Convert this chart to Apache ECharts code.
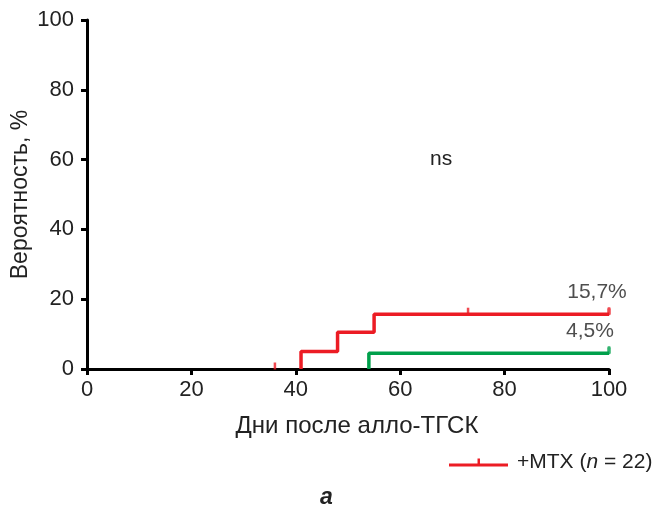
<!DOCTYPE html>
<html>
<head>
<meta charset="utf-8">
<script src="https://cdn.jsdelivr.net/npm/echarts@6/dist/echarts.min.js"></script>
<style>html,body{margin:0;padding:0;background:#fff}#c{width:657px;height:507px}</style>
</head>
<body>
<div id="c"></div>
<script>
// Data
const xTicks = [0, 20, 40, 60, 80, 100];
const yTicks = [0, 20, 40, 60, 80, 100];
const followUpEnd = 100;
// +MTX (red): event times and cumulative incidence (%) after each event
const redEventTimes = [41, 48, 55];
const redIncidence = [5.0, 10.5, 15.7];
const redCensorTimes = [36, 73];
// green group
const greenEventTimes = [54];
const greenIncidence = [4.5];
const redLabel = '15,7%';
const greenLabel = '4,5%';
const legendName = '+MTX (n = 22)';

const RED = '#ec1c24';
const GREEN = '#00a04b';
const FONT = '"Liberation Sans", Arial, sans-serif';

function stepPoints(times, vals) {
  const pts = [[times[0], 0]];
  for (let i = 0; i < times.length; i++) {
    const nextT = i + 1 < times.length ? times[i + 1] : followUpEnd;
    pts.push([nextT, vals[i]]);
  }
  return pts;
}
function valueAt(times, vals, t) {
  let v = 0;
  for (let i = 0; i < times.length; i++) if (t >= times[i]) v = vals[i];
  return v;
}
function censorPoints(times, vals, ct) {
  return ct.map(t => [t, valueAt(times, vals, t)]);
}

const chart = echarts.init(document.getElementById('c'), null, {renderer: 'canvas'});
const option = {
  animation: false,
  textStyle: {fontFamily: FONT},
  grid: {left: 87, right: 48, top: 20, bottom: 138, containLabel: false, outerBoundsMode: 'none'},
  xAxis: {
    type: 'value', min: 0, max: 100, interval: 20,
    name: 'Дни после алло-ТГСК', nameLocation: 'middle', nameGap: 45, nameMoveOverlap: false,
    nameTextStyle: {fontSize: 24, color: '#222', fontFamily: FONT, padding: [0, 0, 0, 18]},
    axisLine: {lineStyle: {color: '#000', width: 3}},
    axisTick: {show: true, length: 6, lineStyle: {color: '#000', width: 3}},
    axisLabel: {fontSize: 22, color: '#222', margin: 10, fontFamily: FONT,
      formatter: v => xTicks.includes(v) ? String(v) : ''},
    splitLine: {show: false}
  },
  yAxis: {
    type: 'value', min: 0, max: 100, interval: 20,
    name: 'Вероятность, %', nameLocation: 'middle', nameGap: 55, nameMoveOverlap: false,
    nameTextStyle: {fontSize: 23, color: '#222', fontFamily: FONT},
    axisLine: {lineStyle: {color: '#000', width: 3}},
    axisTick: {show: true, length: 6, lineStyle: {color: '#000', width: 3}},
    axisLabel: {fontSize: 22, color: '#222', margin: 13, fontFamily: FONT,
      formatter: v => yTicks.includes(v) ? String(v) : ''},
    splitLine: {show: false}
  },
  legend: {
    data: [{name: legendName, icon: 'path://M0,5 L60,5 L60,8 L0,8 Z M29,0 L31.5,0 L31.5,5 L29,5 Z'}],
    left: 444, top: 447, itemWidth: 59, itemHeight: 8, itemGap: 14,
    formatter: () => '{a|+MTX (}{i|n}{a| = 22)}',
    textStyle: {padding: [0, 0, 0, 4], rich: {
      a: {fontSize: 21, color: '#222', fontFamily: FONT},
      i: {fontSize: 21, color: '#222', fontStyle: 'italic', fontFamily: FONT}
    }}
  },
  series: [
    {
      name: legendName, type: 'line', step: 'start', showSymbol: false,
      data: stepPoints(redEventTimes, redIncidence),
      lineStyle: {color: RED, width: 3.5}, itemStyle: {color: RED}, z: 3
    },
    {
      name: 'green', type: 'line', step: 'start', showSymbol: false,
      data: stepPoints(greenEventTimes, greenIncidence),
      lineStyle: {color: GREEN, width: 3.5}, itemStyle: {color: GREEN}, z: 3
    },
    {
      name: 'redCensor', type: 'scatter', symbol: 'rect', symbolSize: [2.5, 7], symbolOffset: [0, -3],
      data: censorPoints(redEventTimes, redIncidence, redCensorTimes),
      itemStyle: {color: RED}, z: 4, silent: true
    },
    {
      name: 'redEnd', type: 'scatter', symbol: 'roundRect', symbolSize: [3.5, 8], symbolOffset: [0, -3],
      data: [[followUpEnd, redIncidence[redIncidence.length - 1]]],
      itemStyle: {color: RED}, z: 4, silent: true,
      label: {show: true, position: 'top', distance: 5, offset: [-12, 0], formatter: redLabel,
        fontSize: 21, color: '#222', fontFamily: FONT}
    },
    {
      name: 'greenEnd', type: 'scatter', symbol: 'roundRect', symbolSize: [3.5, 8], symbolOffset: [0, -3],
      data: [[followUpEnd, greenIncidence[greenIncidence.length - 1]]],
      itemStyle: {color: GREEN}, z: 4, silent: true,
      label: {show: true, position: 'top', distance: 5, offset: [-19, 0], formatter: greenLabel,
        fontSize: 21, color: '#222', fontFamily: FONT}
    }
  ],
  graphic: [
    {type: 'text', left: 430, top: 149, style: {text: 'ns', fontSize: 21, fill: '#222', fontFamily: FONT}},
    {type: 'text', left: 320, top: 486, style: {text: 'а', fontSize: 23, fontWeight: 'bold', fontStyle: 'italic', fill: '#222', fontFamily: FONT}}
  ]
};
chart.setOption(option);
</script>
</body>
</html>
